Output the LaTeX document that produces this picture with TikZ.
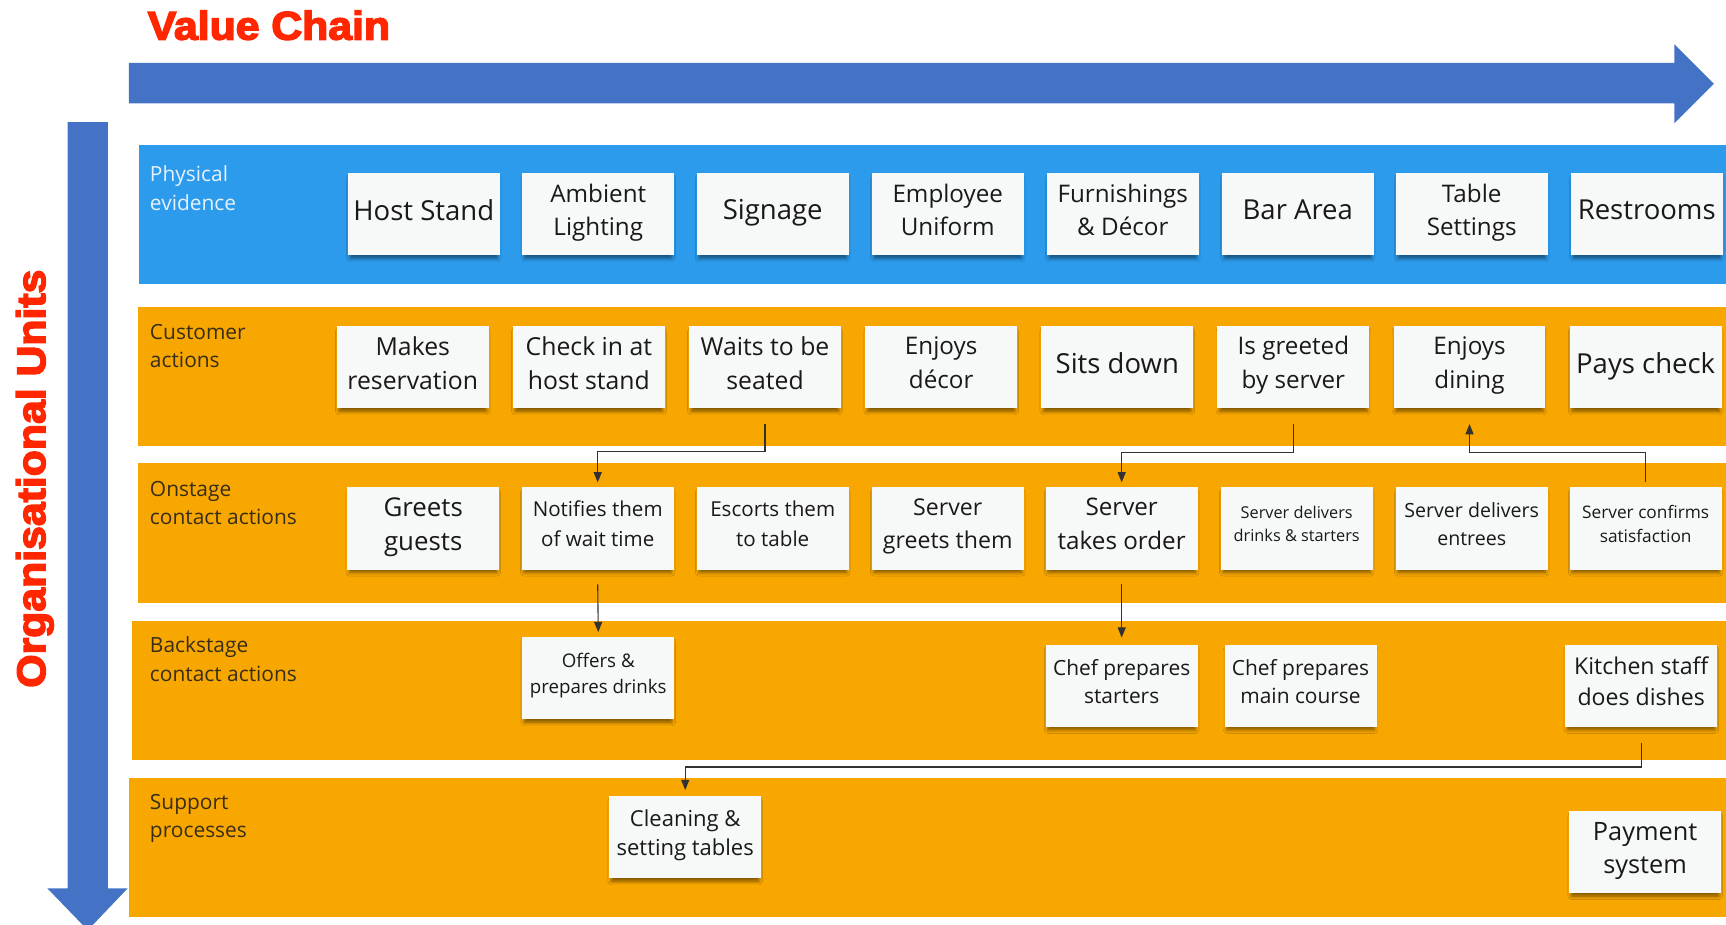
\documentclass[tikz,border=0pt]{standalone}
\usepackage{fontspec}
\setmainfont{Open Sans}
\newfontfamily\titlefont[FakeBold=3.5]{Liberation Sans Bold}
\usetikzlibrary{arrows.meta,calc,shadows.blur}
\definecolor{arrowblue}{RGB}{68,114,196}
\definecolor{laneblue}{RGB}{44,155,236}
\definecolor{laneorange}{RGB}{248,167,0}
\definecolor{notebg}{RGB}{247,248,248}
\definecolor{notetext}{RGB}{25,25,25}
\definecolor{conngray}{RGB}{50,50,50}
\definecolor{titlered}{RGB}{255,38,0}
\definecolor{lblblue}{RGB}{230,241,253}
\definecolor{lbldark}{RGB}{55,45,25}
\newcommand\fsz[2]{\fontsize{\dimexpr #1pt*3/4\relax}{\dimexpr #2pt*3/4\relax}\selectfont}
\begin{document}
\begin{tikzpicture}[x=0.75pt,y=-0.75pt,
  note/.style={rectangle, fill=notebg, minimum width=103.5pt, minimum height=56.25pt,
    inner sep=1pt, align=center, text=notetext, text depth=6pt,
    blur shadow={shadow xshift=0pt, shadow yshift=-2.8pt, shadow blur radius=2.6pt, shadow opacity=50, shadow scale=0.97}},
  lanelbl/.style={anchor=base west, inner sep=0pt, font=\fsz{19}{26}},
  conn/.style={draw=conngray, line width=0.75pt, -{Triangle[length=7pt,width=5.5pt]}},
  titletext/.style={inner sep=0pt, text=titlered, font={\titlefont\fsz{36.3}{40}}}
]
\useasboundingbox (0,0) rectangle (1568,840);
\fill[white] (0,0) rectangle (1568,840);

% lanes
\fill[laneblue] (126,132) rectangle (1568,258);
\fill[laneorange] (125,279) rectangle (1568,405);
\fill[laneorange] (125,421) rectangle (1568,548);
\fill[laneorange] (120,564) rectangle (1568,690);
\fill[laneorange] (117,707) rectangle (1568,833);

% big arrows
\fill[arrowblue] (117,57) -- (1521,57) -- (1521,40) -- (1557,76) -- (1521,112) -- (1521,94) -- (117,94) -- cycle;
\begin{scope}
\clip (0,0) rectangle (1568,840);
\fill[arrowblue] (61.5,111) -- (98,111) -- (98,807) -- (116,807) -- (79.75,845) -- (43,807) -- (61.5,807) -- cycle;
\end{scope}

% titles
\node[titletext, anchor=base west] (vc) at (134,36) {\scalebox{1.07}[1]{Value Chain}};
\node[titletext, anchor=base west, rotate=90] (ou) at (41,625) {\scalebox{1.07}[1]{Organisational Units}};

% lane labels
\node[lanelbl, text=lblblue] (l1) at (136,165) {\begin{tabular}[t]{@{}l@{}}Physical\\evidence\end{tabular}};
\node[lanelbl, text=lbldark] (l2) at (136,308) {\begin{tabular}[t]{@{}l@{}}Customer\\actions\end{tabular}};
\node[lanelbl, text=lbldark] (l3) at (136,450.6) {\begin{tabular}[t]{@{}l@{}}Onstage\\contact actions\end{tabular}};
\node[lanelbl, text=lbldark] (l4) at (136,593) {\begin{tabular}[t]{@{}l@{}}Backstage\\contact actions\end{tabular}};
\node[lanelbl, text=lbldark] (l5) at (136,735) {\begin{tabular}[t]{@{}l@{}}Support\\processes\end{tabular}};

% row 1: physical evidence
\node[note, font=\fsz{25}{31}] (hoststand) at (385,194.5) {Host Stand};
\node[note, font=\fsz{22}{30.5}] (lighting) at (543.5,194.5) {Ambient\\Lighting};
\node[note, font=\fsz{25}{31}] (signage) at (702,194.5) {Signage};
\node[note, font=\fsz{22}{30.5}] (uniform) at (861,194.5) {Employee\\Uniform};
\node[note, font=\fsz{22}{30.5}] (decor) at (1020,194.5) {Furnishings\\\& Décor};
\node[note, font=\fsz{25}{31}] (bar) at (1179,194.5) {Bar Area};
\node[note, font=\fsz{22}{30.5}] (settings) at (1337,194.5) {Table\\Settings};
\node[note, font=\fsz{25}{31}] (restrooms) at (1496,194.5) {Restrooms};

% row 2: customer actions
\node[note, font=\fsz{22.5}{31}] (reserve) at (375,333.5) {Makes\\reservation};
\node[note, font=\fsz{22.5}{31}] (checkin) at (535,333.5) {Check in at\\host stand};
\node[note, font=\fsz{22.5}{31}] (waits) at (695,333.5) {Waits to be\\seated};
\node[note, font=\fsz{22}{31}] (enjdecor) at (855,333.5) {Enjoys\\décor};
\node[note, font=\fsz{25}{31}] (sits) at (1015,333.5) {Sits down};
\node[note, font=\fsz{22}{31}] (greeted) at (1175,333.5) {Is greeted\\by server};
\node[note, font=\fsz{22}{31}] (dining) at (1335,333.5) {Enjoys\\dining};
\node[note, font=\fsz{25}{31}] (pays) at (1495,333.5) {Pays check};

% row 3: onstage
\node[note, font=\fsz{23.5}{31}] (greets) at (384.5,480) {Greets\\guests};
\node[note, font=\fsz{18.7}{27}] (notify) at (543,480) {Notifies them\\of wait time};
\node[note, font=\fsz{18.7}{27}] (escorts) at (702,480) {Escorts them\\to table};
\node[note, font=\fsz{21}{30}] (sgreets) at (861,480) {Server\\greets them};
\node[note, font=\fsz{22}{31}] (order) at (1019,480) {Server\\takes order};
\node[note, font=\fsz{14.8}{20.6}] (drinks) at (1178,480) {Server delivers\\drinks \& starters};
\node[note, font=\fsz{17.8}{25}] (entrees) at (1337,480) {Server delivers\\entrees};
\node[note, font=\fsz{15.7}{22}] (confirm) at (1495,480) {Server confirms\\satisfaction};

% row 4: backstage
\node[note, font=\fsz{17}{23.5}] (offers) at (543.5,616) {Offers \&\\prepares drinks};
\node[note, font=\fsz{19}{25}] (chefst) at (1019,623) {Chef prepares\\starters};
\node[note, font=\fsz{19}{25}] (chefmain) at (1181.5,623) {Chef prepares\\main course};
\node[note, font=\fsz{21}{28}] (kitchen) at (1491,623) {Kitchen staff\\does dishes};

% row 5: support
\node[note, font=\fsz{20}{27}] (cleaning) at (622.5,760.5) {Cleaning \&\\setting tables};
\node[note, font=\fsz{23}{30}] (payment) at (1494.5,774) {Payment\\system};

% connectors
\draw[conn] ($(waits.south)+(0,14)$) -- ($(waits.south)+(0,39)$) -| ($(notify.north)+(0,-4)$);
\draw[conn] ($(greeted.south)+(0,14)$) -- ($(greeted.south)+(0,40)$) -| ($(order.north)+(0,-4)$);
\draw[conn] ($(confirm.north)+(0,-4)$) -- ($(confirm.north)+(0,-31)$) -| ($(dining.south)+(0,14)$);
\draw[conn] ($(notify.south)+(0,13)$) -- ($(offers.north)+(0,-4)$);
\draw[conn] ($(order.south)+(0,13)$) -- ($(chefst.north)+(0,-6)$);
\draw[conn] ($(kitchen.south)+(0,14)$) -- ($(kitchen.south)+(0,36)$) -| ($(cleaning.north)+(0,-5)$);
\end{tikzpicture}
\end{document}
